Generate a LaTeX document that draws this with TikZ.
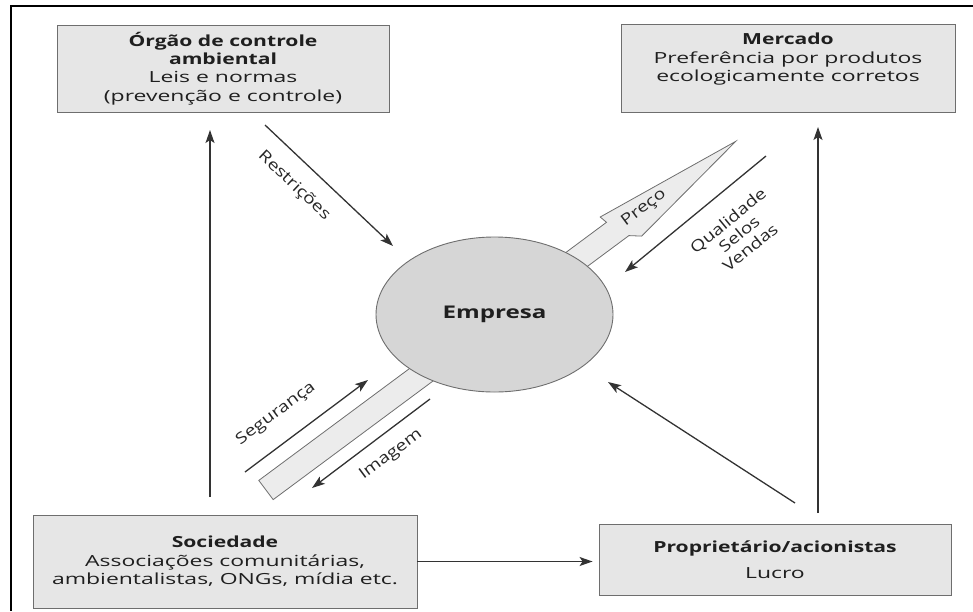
\documentclass[tikz,border=0pt]{standalone}
\usepackage{fontspec}
\setmainfont[FakeStretch=1.5, BoldFeatures={FakeStretch=1.38}]{Open Sans}
\newfontfamily\lblfont[FakeStretch=1.25]{Open Sans}
\usetikzlibrary{arrows.meta,shapes.geometric}

\definecolor{boxgray}{HTML}{E6E6E6}
\definecolor{discgray}{HTML}{D6D6D6}
\definecolor{bandgray}{HTML}{ECECEC}
\definecolor{edgegray}{HTML}{6E6E6E}
\definecolor{linkgray}{HTML}{333333}

\begin{document}
\begin{tikzpicture}[x=1pt,y=-1pt,
  box/.style={draw=edgegray, line width=0.9pt, fill=boxgray, align=center,
    inner sep=0pt, text=black!88, font=\fontsize{15.3}{18.4}\selectfont},
  conn/.style={draw=linkgray, line width=1.3pt,
    -{Stealth[length=13pt,width=9pt,inset=3pt]}},
  lbl/.style={font=\lblfont\fontsize{15.5}{17.5}\selectfont, text=black!85, align=center, inner sep=1pt}]

\useasboundingbox (0,0) rectangle (973,611);

% outer frame (top and left edges only)
\draw[line width=2pt] (10,6) -- (973,6);
\draw[line width=2pt] (11,5) -- (11,611);

% the four actors
\node[box, minimum width=332pt, minimum height=87pt] (orgao) at (223,68.5)
  {\textbf{Órgão de controle}\\\textbf{ambiental}\\Leis e normas\\(prevenção e controle)};
\node[box, minimum width=334pt, minimum height=88pt] (mercado) at (788,68.5)
  {\textbf{Mercado}\\Preferência por produtos\\ecologicamente corretos\\[4pt]};
\node[box, minimum width=384pt, minimum height=93pt] (sociedade) at (225,561.5)
  {\textbf{Sociedade}\\Associações comunitárias,\\ambientalistas, ONGs, mídia etc.};
\node[box, minimum width=352pt, minimum height=71pt] (proprietario) at (775,559.5)
  {\textbf{Proprietário/acionistas}\\[8pt]Lucro};

% wide hollow arrow through the company (Segurança / Preço band)
\draw[draw=edgegray, line width=0.8pt, fill=bandgray]
  (258.8,480.4) -- (606.5,222.3) -- (600.2,217.0) -- (735.8,141.3)
  -- (641.7,236.1) -- (628.9,235.6) -- (273.2,499.6) -- cycle;

% the company
\node[draw=edgegray, line width=0.9pt, fill=discgray, ellipse, minimum width=237pt,
  minimum height=155pt, inner sep=0pt, text=black!88,
  font=\fontsize{17.5}{20}\selectfont\bfseries]
  (empresa) at (494.5,314.5) {Empresa};

% free ends of the connectors
\coordinate (s1) at (210,497);  \coordinate (t1) at (210,130);
\coordinate (s2) at (818,513);  \coordinate (t2) at (818,127);
\coordinate (s3) at (265,125);  \coordinate (t3) at (393,246);
\coordinate (s4) at (766,156);  \coordinate (t4) at (625,272);
\coordinate (s5) at (795,503);  \coordinate (t5) at (608,382);
\coordinate (s6) at (245,472);  \coordinate (t6) at (368,380);
\coordinate (s7) at (430,399);  \coordinate (t7) at (312,488);

\draw[conn] (s1) -- (t1);
\draw[conn] (s2) -- (t2);
\draw[conn] (s3) -- (t3);
\draw[conn] (s4) -- (t4);
\draw[conn] (s5) -- (t5);
\draw[conn] (s6) -- (t6);
\draw[conn] (s7) -- (t7);
\draw[conn, shorten >=6pt] (sociedade.east) -- (sociedade.east -| proprietario.west);

% labels along the connectors
\node[lbl, rotate=-43.4] (restr) at (294,186) {Restrições};
\node[lbl, rotate=36.6] (preco) at (644,208) {Preço};
\node[lbl, rotate=39.4] (qsv) at (739,234) {Qualidade\\Selos\\Vendas};
\node[lbl, rotate=36.6] (seg) at (276,414) {Segurança};
\node[lbl, rotate=36.6] (img) at (391,455) {Imagem};

\end{tikzpicture}
\end{document}
